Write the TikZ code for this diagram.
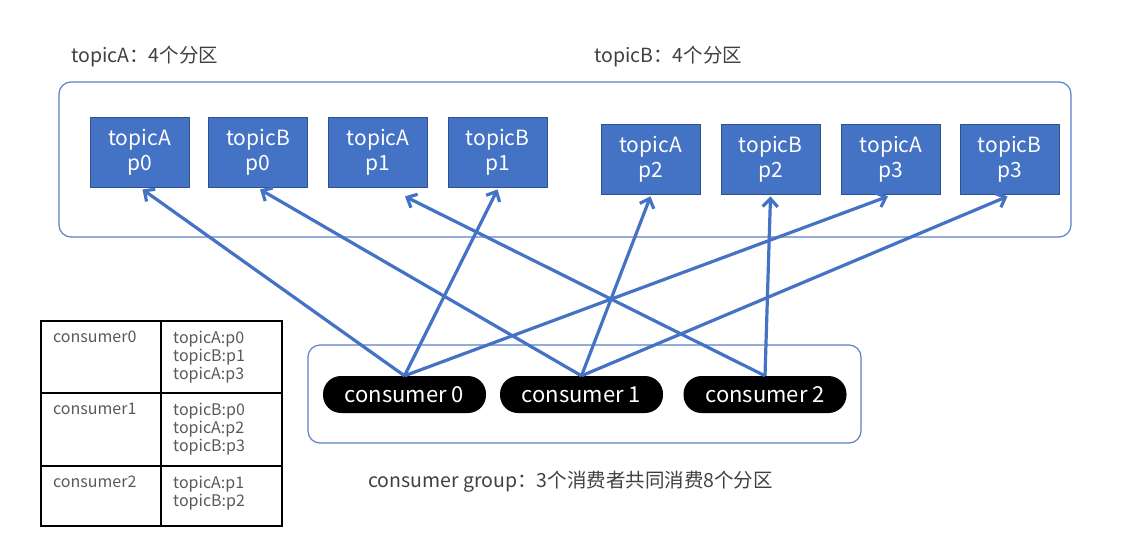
\documentclass[tikz,border=0pt]{standalone}
\usepackage{fontspec}
\setmainfont{Noto Sans CJK SC}
\usetikzlibrary{arrows.meta}
\definecolor{pblue}{HTML}{4472C4}
\definecolor{pedge}{HTML}{2F528F}
\definecolor{frame}{HTML}{5B7FC4}
\definecolor{txt}{HTML}{404040}
\definecolor{ctxt}{HTML}{595959}
\tikzset{
  part/.style={draw=pedge, line width=0.8pt, fill=pblue, text=white, minimum width=99pt, minimum height=70pt, align=center, inner sep=0pt, font=\fontsize{21}{25}\selectfont},
  cons/.style={fill=black, text=white, rounded corners=18pt, minimum width=163pt, minimum height=37pt, inner sep=0pt, font=\fontsize{22}{24}\selectfont},
  group/.style={draw=frame, line width=1.2pt, rounded corners=12pt},
  link/.style={pblue, line width=3.2pt, -{Straight Barb[length=8pt,width=15pt]}},
  lbl/.style={text=txt, anchor=west, inner sep=0pt, font=\fontsize{19.5}{22}\selectfont},
  cell/.style={text=ctxt, anchor=north west, inner sep=0pt, align=left, font=\fontsize{16}{18}\selectfont},
}
\begin{document}
\begin{tikzpicture}[x=1pt,y=-1pt]
\useasboundingbox (0,0) rectangle (1148,535);
% frames
\draw[group] (59,82) rectangle (1071,237);
\draw[group] (308,345) rectangle (861,443);
% labels
\node[lbl] (la) at (71,57) {topicA：4个分区};
\node[lbl] (lb) at (594,57) {topicB：4个分区};
\node[lbl] (lg) at (368,482) {consumer group：3个消费者共同消费8个分区};
% partitions
\node[part] (a0) at (139.5,152) {topicA\\p0};
\node[part] (b0) at (258,152) {topicB\\p0};
\node[part] (a1) at (378,152) {topicA\\p1};
\node[part] (b1) at (497.5,152) {topicB\\p1};
\node[part] (a2) at (650.5,159) {topicA\\p2};
\node[part] (b2) at (770.5,159) {topicB\\p2};
\node[part] (a3) at (891,159) {topicA\\p3};
\node[part] (b3) at (1009.5,159) {topicB\\p3};
% consumers
\node[cons] (c0) at (404.5,394.5) {consumer 0};
\node[cons] (c1) at (581.5,394.5) {consumer 1};
\node[cons] (c2) at (765,394.5) {consumer 2};
% arrow tips
\coordinate (ta0) at ([xshift=3pt,yshift=-2pt]a0.south);
\coordinate (tb0) at ([xshift=2pt,yshift=-2pt]b0.south);
\coordinate (ta1) at ([xshift=27pt,yshift=-9pt]a1.south);
\coordinate (tb1) at ([xshift=0pt,yshift=-2pt]b1.south);
\coordinate (ta2) at ([yshift=-2pt]a2.south);
\coordinate (tb2) at ([yshift=-2pt]b2.south);
\coordinate (ta3) at ([xshift=-3pt,yshift=-2pt]a3.south);
\coordinate (tb3) at ([xshift=-2pt,yshift=-2pt]b3.south);
% connectors
\draw[link] (c0.north) -- (ta0);
\draw[link] (c0.north) -- (tb1);
\draw[link] (c0.north) -- (ta3);
\draw[link] (c1.north) -- (tb0);
\draw[link] (c1.north) -- (ta2);
\draw[link] (c1.north) -- (tb3);
\draw[link] (c2.north) -- (ta1);
\draw[link] (c2.north) -- (tb2);
% table
\draw[line width=1.5pt] (41,321) rectangle (282,526);
\draw[line width=1.5pt] (161,321) -- (161,526);
\draw[line width=1.5pt] (41,393) -- (282,393);
\draw[line width=1.5pt] (41,466) -- (282,466);
\node[cell] (t00) at (53,331) {consumer0};
\node[cell] (t01) at (173,331) {topicA:p0\\topicB:p1\\topicA:p3};
\node[cell] (t10) at (53,403) {consumer1};
\node[cell] (t11) at (173,403) {topicB:p0\\topicA:p2\\topicB:p3};
\node[cell] (t20) at (53,476) {consumer2};
\node[cell] (t21) at (173,476) {topicA:p1\\topicB:p2};
\end{tikzpicture}
\end{document}
